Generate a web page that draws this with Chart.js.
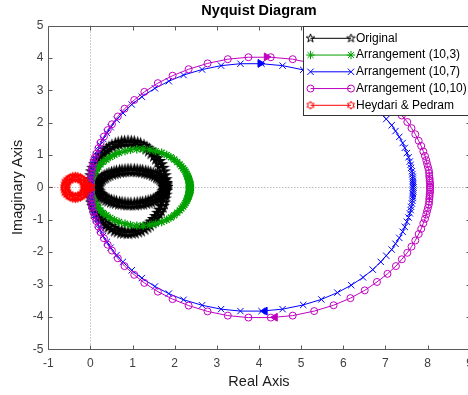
<!DOCTYPE html>
<html>
<head>
<meta charset="utf-8">
<title>Nyquist Diagram</title>
<script src="https://cdn.jsdelivr.net/npm/chart.js@4.4.1/dist/chart.umd.min.js"></script>
<style>
  html, body { margin: 0; padding: 0; background: #fff; overflow: hidden; }
  canvas { display: block; }
</style>
</head>
<body>
<canvas id="nyquist" width="480" height="395"></canvas>
<script>
// axis limits (real / imaginary)
const realLimits = [-1, 9];
const imagLimits = [-5, 5];

const seriesNames = ['Original', 'Arrangement (10,3)', 'Arrangement (10,7)', 'Arrangement (10,10)', 'Heydari & Pedram'];

// Original: outer loop then inner loop
const originalOuterX = [1.78,1.78,1.77,1.75,1.73,1.70,1.66,1.62,1.57,1.52,1.46,1.40,1.34,1.27,1.19,1.12,1.04,0.97,0.89,
  0.81,0.74,0.66,0.59,0.51,0.44,0.38,0.32,0.26,0.21,0.16,0.12,0.08,0.05,0.03,0.01,0.00,0.00,
  0.00,0.01,0.03,0.05,0.08,0.12,0.16,0.21,0.26,0.32,0.38,0.44,0.51,0.59,0.66,0.74,0.81,0.89,
  0.97,1.04,1.12,1.19,1.27,1.34,1.40,1.46,1.52,1.57,1.62,1.66,1.70,1.73,1.75,1.77,1.78,1.78];
const originalOuterY = [0,0.12,0.24,0.36,0.48,0.59,0.70,0.80,0.90,0.99,1.07,1.15,1.21,1.27,1.32,1.35,1.38,1.39,1.40,
  1.39,1.38,1.35,1.32,1.27,1.21,1.15,1.07,0.99,0.90,0.80,0.70,0.59,0.48,0.36,0.24,0.12,0,
  -0.12,-0.24,-0.36,-0.48,-0.59,-0.70,-0.80,-0.90,-0.99,-1.07,-1.15,-1.21,-1.27,-1.32,-1.35,-1.38,-1.39,-1.40,
  -1.39,-1.38,-1.35,-1.32,-1.27,-1.21,-1.15,-1.07,-0.99,-0.90,-0.80,-0.70,-0.59,-0.48,-0.36,-0.24,-0.12,0];
const originalInnerX = [1.78,1.78,1.77,1.75,1.73,1.70,1.67,1.63,1.59,1.54,1.49,1.43,1.37,1.31,1.24,1.18,1.11,1.04,0.96,
  0.89,0.82,0.75,0.69,0.62,0.56,0.50,0.44,0.39,0.34,0.30,0.26,0.23,0.20,0.18,0.16,0.15,0.15,
  0.15,0.16,0.18,0.20,0.23,0.26,0.30,0.34,0.39,0.44,0.50,0.56,0.62,0.69,0.75,0.82,0.89,0.96,
  1.04,1.11,1.18,1.24,1.31,1.37,1.43,1.49,1.54,1.59,1.63,1.67,1.70,1.73,1.75,1.77,1.78,1.78];
const originalInnerY = [0,0.05,0.09,0.13,0.18,0.22,0.26,0.30,0.33,0.37,0.40,0.43,0.45,0.47,0.49,0.50,0.51,0.52,0.52,
  0.52,0.51,0.50,0.49,0.47,0.45,0.43,0.40,0.37,0.33,0.30,0.26,0.22,0.18,0.13,0.09,0.05,0,
  -0.05,-0.09,-0.13,-0.18,-0.22,-0.26,-0.30,-0.33,-0.37,-0.40,-0.43,-0.45,-0.47,-0.49,-0.50,-0.51,-0.52,-0.52,
  -0.52,-0.51,-0.50,-0.49,-0.47,-0.45,-0.43,-0.40,-0.37,-0.33,-0.30,-0.26,-0.22,-0.18,-0.13,-0.09,-0.05,0];

// Arrangement (10,3)
const arr103X = [2.36,2.36,2.36,2.36,2.36,2.36,2.35,2.35,2.35,2.34,
  2.33,2.32,2.31,2.30,2.28,2.26,2.23,2.20,2.16,2.12,
  2.06,1.99,1.91,1.81,1.69,1.55,1.41,1.25,1.10,0.95,
  0.82,0.68,0.57,0.47,0.38,0.30,0.24,0.19,0.15,0.12,
  0.09,0.07,0.05,0.04,0.03,0.02,0.01,0.01,0.01,0.00,
  0.00,0.00,0.00,
  0.00,0.00,0.00,0.01,0.01,0.01,0.02,0.03,0.04,0.05,
  0.07,0.09,0.12,0.15,0.19,0.24,0.30,0.38,0.47,0.57,
  0.68,0.82,0.95,1.10,1.25,1.41,1.55,1.69,1.81,1.91,
  1.99,2.06,2.12,2.16,2.20,2.23,2.26,2.28,2.30,2.31,
  2.32,2.33,2.34,2.35,2.35,2.35,2.36,2.36,2.36,2.36,
  2.36,2.36];
const arr103Y = [0,0.02,0.04,0.06,0.08,0.10,0.13,0.15,0.18,0.22,
  0.25,0.29,0.33,0.37,0.42,0.48,0.54,0.59,0.65,0.71,
  0.78,0.86,0.93,1.00,1.07,1.12,1.16,1.18,1.18,1.16,
  1.12,1.07,1.01,0.94,0.86,0.79,0.71,0.64,0.57,0.52,
  0.46,0.40,0.35,0.31,0.27,0.23,0.18,0.15,0.12,0.09,
  0.06,0.03,0,
  -0.03,-0.06,-0.09,-0.12,-0.15,-0.18,-0.23,-0.27,-0.31,-0.35,
  -0.40,-0.46,-0.52,-0.57,-0.64,-0.71,-0.79,-0.86,-0.94,-1.01,
  -1.07,-1.12,-1.16,-1.18,-1.18,-1.16,-1.12,-1.07,-1.00,-0.93,
  -0.86,-0.78,-0.71,-0.65,-0.59,-0.54,-0.48,-0.42,-0.37,-0.33,
  -0.29,-0.25,-0.22,-0.18,-0.15,-0.13,-0.10,-0.08,-0.06,-0.04,
  -0.02,0];

// Arrangement (10,7)
const arr107X = [7.66,7.66,7.66,7.65,7.65,7.65,7.64,7.63,7.61,7.60,
  7.58,7.55,7.51,7.46,7.41,7.33,7.24,7.15,7.02,6.89,
  6.70,6.47,6.19,5.86,5.48,5.05,4.56,4.06,3.56,3.10,
  2.65,2.21,1.86,1.53,1.22,0.98,0.77,0.62,0.48,0.39,
  0.30,0.23,0.18,0.13,0.10,0.07,0.05,0.03,0.02,0.01,
  0.01,0.00,0.00,
  0.00,0.01,0.01,0.02,0.03,0.05,0.07,0.10,0.13,0.18,
  0.23,0.30,0.39,0.48,0.62,0.77,0.98,1.22,1.53,1.86,
  2.21,2.65,3.10,3.56,4.06,4.56,5.05,5.48,5.86,6.19,
  6.47,6.70,6.89,7.02,7.15,7.24,7.33,7.41,7.46,7.51,
  7.55,7.58,7.60,7.61,7.63,7.64,7.65,7.65,7.65,7.66,
  7.66,7.66];
const arr107Y = [0,0.07,0.13,0.20,0.27,0.33,0.41,0.50,0.60,0.70,
  0.80,0.93,1.06,1.22,1.37,1.56,1.74,1.92,2.11,2.30,
  2.54,2.78,3.02,3.25,3.46,3.63,3.76,3.82,3.82,3.76,
  3.64,3.47,3.28,3.06,2.80,2.56,2.30,2.09,1.86,1.68,
  1.50,1.31,1.15,0.99,0.86,0.73,0.60,0.50,0.40,0.30,
  0.20,0.10,0,
  -0.10,-0.20,-0.30,-0.40,-0.50,-0.60,-0.73,-0.86,-0.99,-1.15,
  -1.31,-1.50,-1.68,-1.86,-2.09,-2.30,-2.56,-2.80,-3.06,-3.28,
  -3.47,-3.64,-3.76,-3.82,-3.82,-3.76,-3.63,-3.46,-3.25,-3.02,
  -2.78,-2.54,-2.30,-2.11,-1.92,-1.74,-1.56,-1.37,-1.22,-1.06,
  -0.93,-0.80,-0.70,-0.60,-0.50,-0.41,-0.33,-0.27,-0.20,-0.13,
  -0.07,0];

// Arrangement (10,10)
const arr1010X = [8.06,8.06,8.06,8.05,8.05,8.04,8.04,8.03,8.01,7.99,
  7.97,7.94,7.90,7.85,7.79,7.71,7.62,7.52,7.39,7.25,
  7.05,6.80,6.51,6.17,5.77,5.31,4.80,4.28,3.75,3.26,
  2.78,2.33,1.95,1.60,1.28,1.04,0.81,0.65,0.51,0.41,
  0.32,0.24,0.19,0.14,0.10,0.07,0.05,0.03,0.02,0.01,
  0.01,0.00,0.00,
  0.00,0.01,0.01,0.02,0.03,0.05,0.07,0.10,0.14,0.19,
  0.24,0.32,0.41,0.51,0.65,0.81,1.04,1.28,1.60,1.95,
  2.33,2.78,3.26,3.75,4.28,4.80,5.31,5.77,6.17,6.51,
  6.80,7.05,7.25,7.39,7.52,7.62,7.71,7.79,7.85,7.90,
  7.94,7.97,7.99,8.01,8.03,8.04,8.04,8.05,8.05,8.06,
  8.06,8.06];
const arr1010Y = [0,0.07,0.14,0.21,0.28,0.35,0.44,0.53,0.63,0.73,
  0.84,0.97,1.11,1.28,1.44,1.64,1.83,2.02,2.22,2.43,
  2.67,2.92,3.18,3.42,3.64,3.82,3.96,4.02,4.02,3.96,
  3.83,3.65,3.45,3.22,2.95,2.70,2.43,2.19,1.95,1.77,
  1.57,1.38,1.21,1.04,0.91,0.77,0.63,0.53,0.42,0.32,
  0.21,0.11,0,
  -0.11,-0.21,-0.32,-0.42,-0.53,-0.63,-0.77,-0.91,-1.04,-1.21,
  -1.38,-1.57,-1.77,-1.95,-2.19,-2.43,-2.70,-2.95,-3.22,-3.45,
  -3.65,-3.83,-3.96,-4.02,-4.02,-3.96,-3.82,-3.64,-3.42,-3.18,
  -2.92,-2.67,-2.43,-2.22,-2.02,-1.83,-1.64,-1.44,-1.28,-1.11,
  -0.97,-0.84,-0.73,-0.63,-0.53,-0.44,-0.35,-0.28,-0.21,-0.14,
  -0.07,0];

// Heydari & Pedram
const heydariX = [0,-0.06,-0.12,-0.13,-0.15,-0.19,-0.24,-0.30,-0.36,-0.42,-0.48,-0.53,-0.57,-0.59,
  -0.60,-0.59,-0.57,-0.53,-0.48,-0.42,-0.36,-0.30,-0.24,-0.19,-0.15,-0.13,-0.12];
const heydariY = [0,0,0,0.08,0.16,0.22,0.27,0.30,0.31,0.30,0.27,0.22,0.16,0.08,
  0,-0.08,-0.16,-0.22,-0.27,-0.30,-0.31,-0.30,-0.27,-0.22,-0.16,-0.08,0];

// direction arrows on the big loops (upper branch heads right, lower heads left)
const arrow107X = [4.03, 4.14], arrow107Y = [3.83, -3.82];
const arrow1010X = [4.18, 4.38], arrow1010Y = [4.03, -4.01];
const arrowTurn = [90, -90];

// the -1 critical point
const criticalX = [-1], criticalY = [0];

function toPoints(xs, ys) {
  return xs.map((x, i) => ({ x: x, y: ys[i] }));
}

// outlined star markers (pentagram / hexagram)
function starMarker(color, r, n, inner, lw) {
  const size = Math.ceil(2 * r + 2 * lw + 2);
  const c = document.createElement('canvas');
  c.width = size; c.height = size;
  const g = c.getContext('2d');
  g.translate(size / 2, size / 2);
  g.beginPath();
  for (let i = 0; i < 2 * n; i++) {
    const rr = i % 2 ? r * inner : r;
    const ang = -Math.PI / 2 + i * Math.PI / n;
    const px = rr * Math.cos(ang), py = rr * Math.sin(ang);
    if (i === 0) g.moveTo(px, py); else g.lineTo(px, py);
  }
  g.closePath();
  g.strokeStyle = color;
  g.lineWidth = lw;
  g.lineJoin = 'miter';
  g.stroke();
  return c;
}

// heavier versions for the densely sampled curves, plain ones for the legend
const pentagramPlot = starMarker('#000000', 5.5, 5, 0.382, 1.6);
const hexagramPlot = starMarker('#ff0000', 4.6, 6, 0.577, 1.5);
const pentagramKey = starMarker('#000000', 4.5, 5, 0.382, 1);
const hexagramKey = starMarker('#ff0000', 4, 6, 0.577, 1);

const colors = ['#000000', '#00a000', '#0000ff', '#bf00bf', '#ff0000'];
const markers = [
  { pointStyle: pentagramPlot, key: pentagramKey, radius: 5, width: 1 },
  { pointStyle: 'star', key: 'star', radius: 4.2, width: 1.3 },
  { pointStyle: 'crossRot', key: 'crossRot', radius: 4.5, width: 1 },
  { pointStyle: 'circle', key: 'circle', radius: 3.5, width: 1 },
  { pointStyle: hexagramPlot, key: hexagramKey, radius: 4, width: 1 }
];

function curve(i, data) {
  return {
    label: seriesNames[i],
    data: data,
    showLine: true,
    borderColor: colors[i],
    borderWidth: 1,
    pointStyle: markers[i].pointStyle,
    pointRadius: markers[i].radius,
    pointBorderColor: colors[i],
    pointBackgroundColor: 'rgba(0,0,0,0)',
    pointBorderWidth: markers[i].width,
    order: 10 - i
  };
}

function arrows(color, xs, ys) {
  return {
    data: toPoints(xs, ys),
    showLine: false,
    pointStyle: 'triangle',
    pointRadius: 4.5,
    pointRotation: arrowTurn,
    pointBorderColor: color,
    pointBackgroundColor: color,
    pointBorderWidth: 1,
    order: 1
  };
}

const FONT = '"Liberation Sans", Arial, Helvetica, sans-serif';

const axesFrame = {
  id: 'axesFrame',
  beforeDatasetsDraw(chart) {
    const { ctx, chartArea: a, scales } = chart;
    const x0 = Math.round(scales.x.getPixelForValue(0)) + 0.5;
    const y0 = Math.round(scales.y.getPixelForValue(0)) + 0.5;
    ctx.save();
    ctx.strokeStyle = '#9a9a9a';
    ctx.lineWidth = 1;
    ctx.setLineDash([1, 2]);
    ctx.beginPath();
    ctx.moveTo(x0, a.top); ctx.lineTo(x0, a.bottom);
    ctx.moveTo(a.left, y0); ctx.lineTo(a.right, y0);
    ctx.stroke();
    ctx.restore();
  },
  afterDatasetsDraw(chart) {
    const { ctx, chartArea: a, scales } = chart;
    const L = Math.round(a.left) + 0.5, R = Math.round(a.right) + 0.5;
    const T = Math.round(a.top) + 0.5, B = Math.round(a.bottom) + 0.5;
    ctx.save();
    ctx.strokeStyle = '#5a5a5a';
    ctx.lineWidth = 1;
    ctx.beginPath();
    ctx.rect(L, T, R - L, B - T);
    scales.x.ticks.forEach(t => {
      const p = Math.round(scales.x.getPixelForValue(t.value)) + 0.5;
      ctx.moveTo(p, B); ctx.lineTo(p, B - 4);
      ctx.moveTo(p, T); ctx.lineTo(p, T + 4);
    });
    scales.y.ticks.forEach(t => {
      const p = Math.round(scales.y.getPixelForValue(t.value)) + 0.5;
      ctx.moveTo(L, p); ctx.lineTo(L + 4, p);
      ctx.moveTo(R, p); ctx.lineTo(R - 4, p);
    });
    ctx.stroke();
    ctx.restore();
  },
  afterDraw(chart) {
    const { ctx, chartArea: a } = chart;
    ctx.save();
    // title
    ctx.fillStyle = '#000';
    ctx.font = 'bold 14.5px ' + FONT;
    ctx.textAlign = 'center';
    ctx.textBaseline = 'middle';
    ctx.fillText('Nyquist Diagram', (a.left + a.right) / 2, 10.5);

    // legend box
    const bx = 303.5, by = Math.round(a.top) + 0.5, bw = 180, bh = 89;
    ctx.fillStyle = '#fff';
    ctx.fillRect(bx, by, bw, bh);
    ctx.strokeStyle = '#333';
    ctx.lineWidth = 1;
    ctx.strokeRect(bx, by, bw, bh);
    ctx.font = '12px ' + FONT;
    ctx.textAlign = 'left';
    seriesNames.forEach((name, i) => {
      const ry = by + 11.8 + i * 16.75;
      const x1 = 310.5, x2 = 351;
      ctx.strokeStyle = colors[i];
      ctx.lineWidth = 1;
      ctx.beginPath();
      ctx.moveTo(x1, ry); ctx.lineTo(x2, ry);
      ctx.stroke();
      ctx.fillStyle = 'rgba(0,0,0,0)';
      [x1, x2].forEach(px => {
        Chart.helpers.drawPoint(ctx, {
          pointStyle: markers[i].key, radius: markers[i].radius, rotation: 0, borderWidth: 1
        }, px, ry);
      });
      ctx.fillStyle = '#000';
      ctx.fillText(name, 356, ry);
    });
    ctx.restore();
  }
};

new Chart(document.getElementById('nyquist'), {
  type: 'scatter',
  data: {
    datasets: [
      curve(0, toPoints(originalOuterX.concat(originalInnerX), originalOuterY.concat(originalInnerY))),
      curve(1, toPoints(arr103X, arr103Y)),
      curve(2, toPoints(arr107X, arr107Y)),
      curve(3, toPoints(arr1010X, arr1010Y)),
      curve(4, toPoints(heydariX, heydariY)),
      arrows(colors[2], arrow107X, arrow107Y),
      arrows(colors[3], arrow1010X, arrow1010Y),
      {
        data: toPoints(criticalX, criticalY),
        showLine: false,
        pointStyle: 'cross',
        pointRadius: 4.5,
        pointBorderColor: '#ff0000',
        pointBorderWidth: 1,
        order: 0
      }
    ]
  },
  options: {
    responsive: false,
    animation: false,
    devicePixelRatio: 1,
    layout: { padding: { left: 0, top: 25.5, right: 10.1, bottom: 0 } },
    plugins: {
      legend: { display: false },
      tooltip: { enabled: false },
      title: { display: false }
    },
    scales: {
      x: {
        type: 'linear',
        min: realLimits[0],
        max: realLimits[1],
        grid: { display: false, drawTicks: false, tickLength: 0 },
        border: { display: false },
        ticks: {
          stepSize: 1, autoSkip: false, maxRotation: 0, padding: 7,
          color: '#404040', font: { family: FONT, size: 12 }
        },
        title: {
          display: true, text: 'Real Axis', color: '#1a1a1a',
          font: { family: FONT, size: 14.5 }, padding: { top: 0, bottom: 4.6 }
        },
        afterFit(scale) { scale.height = 45.7; }
      },
      y: {
        type: 'linear',
        min: imagLimits[0],
        max: imagLimits[1],
        grid: { display: false, drawTicks: false, tickLength: 0 },
        border: { display: false },
        ticks: {
          stepSize: 1, autoSkip: false, padding: 5,
          color: '#404040', font: { family: FONT, size: 12 }
        },
        title: {
          display: true, text: 'Imaginary Axis', color: '#1a1a1a',
          font: { family: FONT, size: 14.5 }, padding: { top: 9.3, bottom: 0 }
        },
        afterFit(scale) { scale.width = 48.3; }
      }
    }
  },
  plugins: [axesFrame]
});
</script>
</body>
</html>
